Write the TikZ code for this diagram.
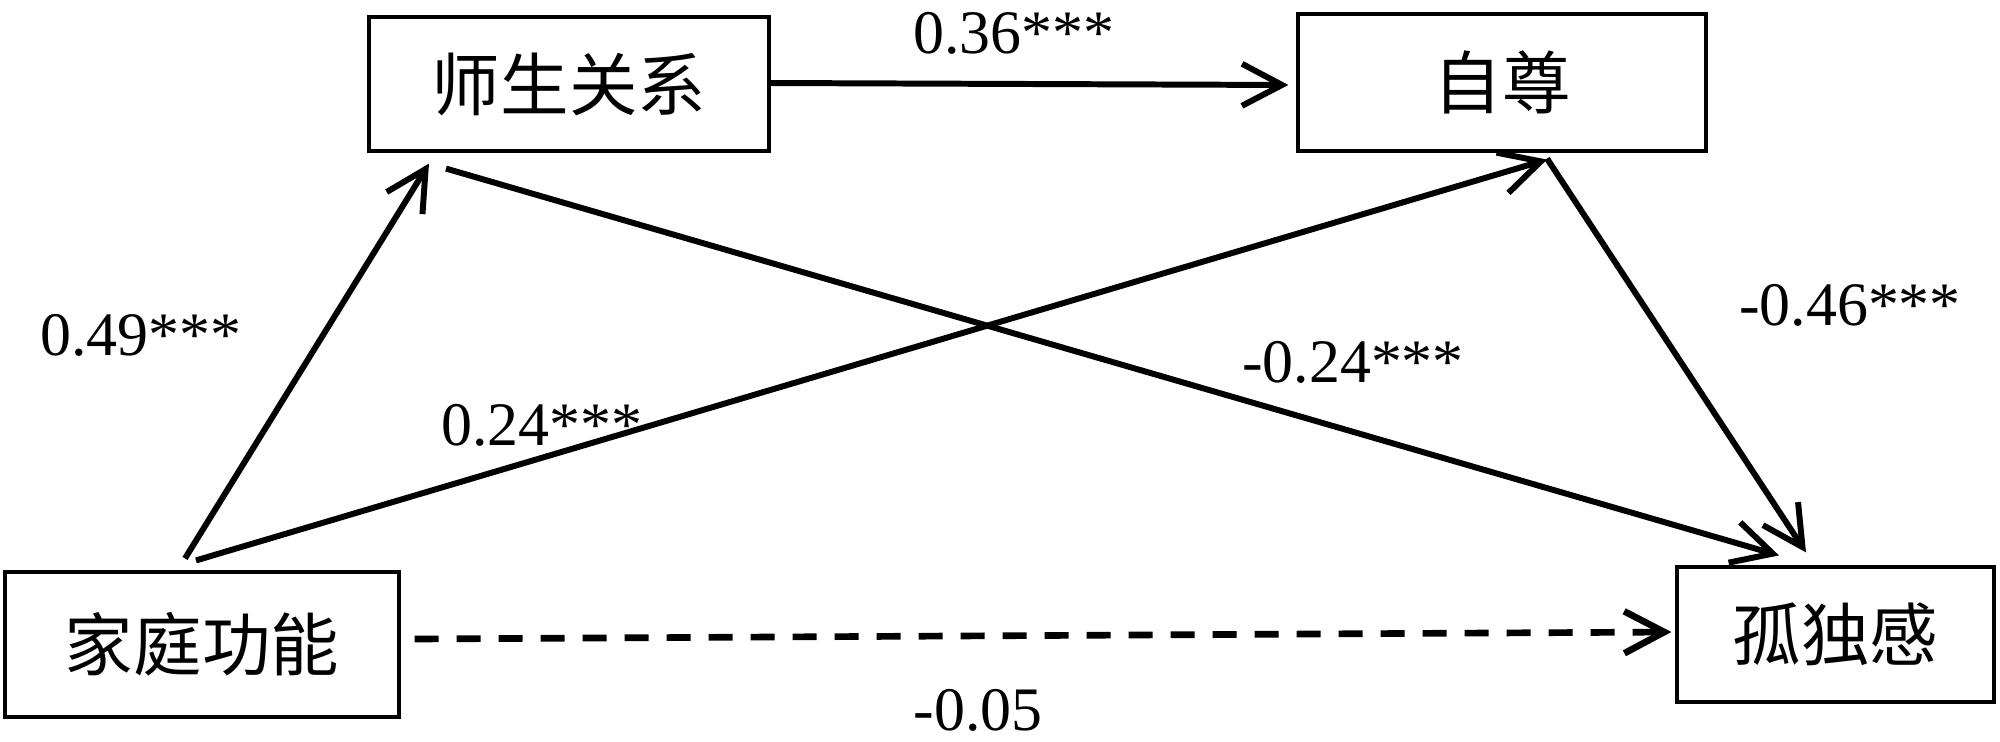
\documentclass[tikz,border=0pt]{standalone}
\usepackage{fontspec}
\setmainfont{Liberation Serif}
\newfontfamily\cjk{Noto Sans CJK SC}
\usetikzlibrary{arrows.meta,positioning}

\begin{document}
\begin{tikzpicture}[>={Straight Barb[length=4mm,width=4.2mm]},
                    var/.style={draw, line width=0.9pt, inner sep=0pt, font=\cjk\fontsize{19.5}{22}\selectfont},
                    coef/.style={inner sep=0pt, font=\fontsize{17.6}{20}\selectfont},
                    arr/.style={->, line width=1.7pt}]
    \useasboundingbox (0,0) rectangle (20,7.41);
    \node[var, minimum width=3.94cm, minimum height=1.45cm] (fam) at (2.02,0.965) {家庭功能};
    \node[var, minimum width=4.00cm, minimum height=1.34cm] (tsr) at (5.69,6.57) {师生关系};
    \node[var, minimum width=4.08cm, minimum height=1.37cm] (zz) at (15.02,6.585) {自尊};
    \node[var, minimum width=3.17cm, minimum height=1.35cm] (gd) at (18.355,1.065) {孤独感};
    \node[coef] (l036) at (10.14,7.08) {0.36***};
    \node[coef] (l049) at (1.41,4.06) {0.49***};
    \node[coef] (l024) at (5.42,3.16) {0.24***};
    \node[coef] (lm024) at (13.53,3.79) {-0.24***};
    \node[coef] (lm046) at (18.50,4.36) {-0.46***};
    \node[coef] (lm005) at (9.78,0.31) {-0.05};
    \draw[arr] ([shift={(-0.17,0.12)}]fam.north) -- ([shift={(-1.40,-0.11)}]tsr.south);
    \draw[arr] ([shift={(-0.06,0.10)}]fam.north) -- ([shift={(0.45,-0.07)}]zz.south);
    \draw[arr] ([shift={(-1.23,-0.16)}]tsr.south) -- ([shift={(-0.565,0.10)}]gd.north);
    \draw[arr] ([shift={(0.45,-0.06)}]zz.south) -- ([shift={(-0.295,0.13)}]gd.north);
    \draw[arr] ([yshift=0.01cm]tsr.east) -- ([shift={(-0.08,-0.025)}]zz.west);
    \draw[arr, line width=1.9pt, dash pattern=on 0.24cm off 0.18cm] ([shift={(0.14,0.055)}]fam.east) -- ([shift={(-0.04,0.025)}]gd.west);
  \end{tikzpicture}
\end{document}
